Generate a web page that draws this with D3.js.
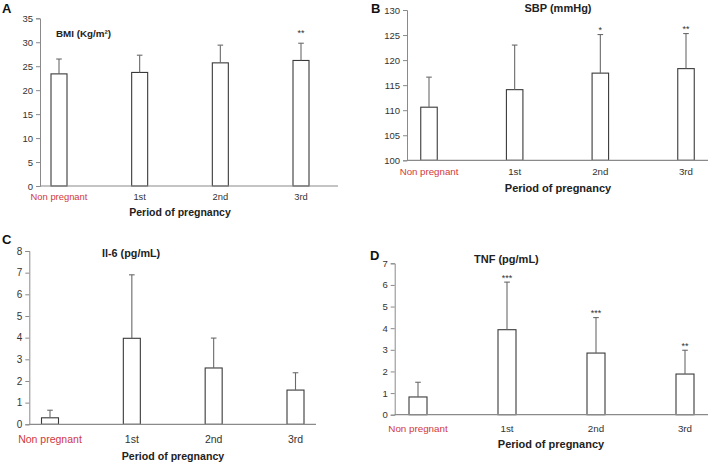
<!DOCTYPE html>
<html><head><meta charset="utf-8">
<script src="https://cdn.jsdelivr.net/npm/d3@7"></script>
<style>
body{margin:0;background:#fff;}
svg{display:block;font-family:"Liberation Sans",Arial,sans-serif;}
</style></head>
<body>
<svg id="chart" width="708" height="462"></svg>
<script>
const categories = ["Non pregnant", "1st", "2nd", "3rd"];
const xTitle = "Period of pregnancy";

const bmiMean = [23.4, 23.7, 25.7, 26.2];
const bmiErr  = [3.1, 3.6, 3.7, 3.6];
const bmiSig  = ["", "", "", "**"];
const bmiTicks = [0, 5, 10, 15, 20, 25, 30, 35];

const sbpMean = [110.6, 114.1, 117.4, 118.3];
const sbpErr  = [6.0, 8.9, 7.7, 7.0];
const sbpSig  = ["", "", "*", "**"];
const sbpTicks = [100, 105, 110, 115, 120, 125, 130];

const il6Mean = [0.3, 3.97, 2.6, 1.58];
const il6Err  = [0.35, 2.93, 1.38, 0.8];
const il6Sig  = ["", "", "", ""];
const il6Ticks = [0, 1, 2, 3, 4, 5, 6, 7, 8];

const tnfMean = [0.82, 3.93, 2.85, 1.88];
const tnfErr  = [0.68, 2.2, 1.64, 1.1];
const tnfSig  = ["", "***", "***", "**"];
const tnfTicks = [0, 1, 2, 3, 4, 5, 6, 7];

const panels = [
  {letter:"A", lx:2, ly:12.5, title:"BMI (Kg/m\u00B2)", tAnchor:"start", tx:56, ty:37, tSize:9.8,
   mean:bmiMean, err:bmiErr, sig:bmiSig, ticks:bmiTicks,
   ax:40, axEnd:338, yBot:186, yTop:18.3, c0:59, c3:301, bw:16,
   catY:200, catSize:9.4, xtY:216, xtX:180, xtSize:10.5, starOff:12, tickSize:9.5},
  {letter:"B", lx:371, ly:12.5, title:"SBP (mmHg)", tAnchor:"middle", tx:558, ty:12, tSize:11,
   mean:sbpMean, err:sbpErr, sig:sbpSig, ticks:sbpTicks,
   ax:407, axEnd:708, yBot:160.3, yTop:10, c0:429, c3:686, bw:16.5,
   catY:175, catSize:9.7, xtY:192, xtX:558, xtSize:11, starOff:7, tickSize:9.5},
  {letter:"C", lx:2, ly:244, title:"Il-6 (pg/mL)", tAnchor:"start", tx:102, ty:256.5, tSize:10.8,
   mean:il6Mean, err:il6Err, sig:il6Sig, ticks:il6Ticks,
   ax:29.3, axEnd:316, yBot:424.3, yTop:251, c0:50, c3:295.5, bw:17,
   catY:443, catSize:10.5, xtY:460, xtX:173, xtSize:10.6, starOff:7, tickSize:10},
  {letter:"D", lx:370, ly:259.5, title:"TNF (pg/mL)", tAnchor:"start", tx:474, ty:263, tSize:11,
   mean:tnfMean, err:tnfErr, sig:tnfSig, ticks:tnfTicks,
   ax:394.7, axEnd:708, yBot:414.7, yTop:263.3, c0:418, c3:685, bw:18,
   catY:432, catSize:9.8, xtY:448, xtX:551, xtSize:11, starOff:6.5, tickSize:9.5}
];

const svg = d3.select("#chart");
const axisCol = "#8a8a8a";
const textCol = "#333";
const redCol = "#d2373c";

panels.forEach(p => {
  const g = svg.append("g");
  const tmin = p.ticks[0], tmax = p.ticks[p.ticks.length-1];
  const y = d3.scaleLinear().domain([tmin, tmax]).range([p.yBot, p.yTop]);
  const x = d3.scalePoint().domain(categories).range([p.c0, p.c3]);

  g.append("text").attr("x", p.lx).attr("y", p.ly).text(p.letter)
    .attr("font-size", 13).attr("font-weight", "bold").attr("fill", "#111");

  const yAxis = g.append("g").attr("transform", `translate(${p.ax},0)`)
    .call(d3.axisLeft(y).tickValues(p.ticks).tickSize(4).tickPadding(3).tickFormat(d3.format("d")));
  yAxis.select(".domain").attr("stroke", axisCol);
  yAxis.selectAll(".tick line").attr("stroke", axisCol);
  yAxis.selectAll(".tick text").attr("fill", textCol).attr("font-size", p.tickSize)
    .attr("font-family", "Liberation Sans, Arial, sans-serif");

  g.selectAll("rect.bar").data(p.mean).enter().append("rect")
    .attr("x", (d,i) => x(categories[i]) - p.bw/2)
    .attr("y", d => y(d))
    .attr("width", p.bw)
    .attr("height", d => y(tmin) - y(d))
    .attr("fill", "#fff").attr("stroke", "#3a3a3a").attr("stroke-width", 1.1);

  p.mean.forEach((m, i) => {
    const cx = x(categories[i]);
    const top = y(m + p.err[i]);
    g.append("line").attr("x1", cx).attr("x2", cx).attr("y1", y(m)).attr("y2", top)
      .attr("stroke", "#6a6a6a").attr("stroke-width", 1.1);
    g.append("line").attr("x1", cx - 2.8).attr("x2", cx + 2.8).attr("y1", top).attr("y2", top)
      .attr("stroke", "#6a6a6a").attr("stroke-width", 1.1);
    if (p.sig[i]) {
      g.append("text").attr("x", cx).attr("y", top - p.starOff + 5)
        .attr("text-anchor", "middle").attr("font-size", 9).attr("fill", textCol)
        .text(p.sig[i]);
    }
  });

  g.append("line").attr("x1", p.ax).attr("x2", p.axEnd).attr("y1", p.yBot).attr("y2", p.yBot)
    .attr("stroke", axisCol).attr("stroke-width", 1.2);

  g.selectAll("text.cat").data(categories).enter().append("text")
    .attr("class", "cat")
    .attr("x", d => x(d)).attr("y", p.catY)
    .attr("text-anchor", "middle").attr("font-size", p.catSize)
    .attr("fill", (d,i) => i === 0 ? redCol : textCol)
    .text(d => d);

  g.append("text").attr("x", p.xtX).attr("y", p.xtY).attr("text-anchor", "middle")
    .attr("font-size", p.xtSize).attr("font-weight", "bold").attr("fill", "#222").text(xTitle);

  g.append("text").attr("x", p.tx).attr("y", p.ty).attr("text-anchor", p.tAnchor)
    .attr("font-size", p.tSize).attr("font-weight", "bold").attr("fill", "#222").text(p.title);
});
</script>
</body></html>
